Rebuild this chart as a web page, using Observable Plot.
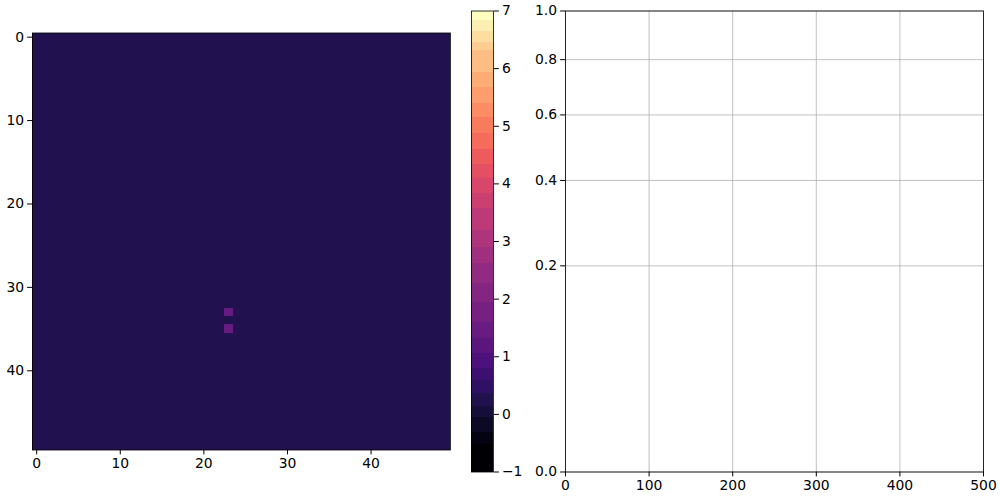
<!DOCTYPE html>
<html><head><meta charset="utf-8">
<script src="https://cdn.jsdelivr.net/npm/d3@7"></script>
<script src="https://cdn.jsdelivr.net/npm/@observablehq/plot@0.6"></script>
<style>
body{margin:0;background:#fff;}
#fig{position:relative;width:1000px;height:500px;background:#fff;}
#fig svg{position:absolute;left:0;top:0;overflow:visible;max-width:none;}
</style></head><body><div id="fig"></div>
<script>
// ---- data ----
const gridRows = 50, gridCols = 50;
const backgroundValue = 0.25;
const hotCellRows = [33, 35];
const hotCellCols = [23, 23];
const hotCellValues = [1.5, 1.5];
const levelBounds = [-1, -0.53, -0.32, -0.05, 0.13, 0.37, 0.59, 0.80, 1.06, 1.32, 1.60, 1.94, 2.27, 2.62, 2.90, 3.19, 3.57, 3.83, 4.09, 4.33, 4.59, 4.87, 5.15, 5.39, 5.67, 5.94, 6.31, 6.46, 6.65, 6.84, 7];
const cbarTicks = [-1, 0, 1, 2, 3, 4, 5, 6, 7];
const heatTicks = [0, 10, 20, 30, 40];
const rightXTicks = [0, 100, 200, 300, 400, 500];
const rightYTicks = [0, 0.2, 0.4, 0.6, 0.8, 1.0];

// ---- build ----
const cells = [];
for (let r = 0; r < gridRows; r++) for (let c = 0; c < gridCols; c++) cells.push({row: r, col: c, value: backgroundValue});
hotCellRows.forEach((r, i) => { cells[r * gridCols + hotCellCols[i]].value = hotCellValues[i]; });
const nBins = levelBounds.length - 1;
const binColors = d3.range(nBins).map(i => d3.interpolateMagma(i / (nBins - 1)));
const colorOpts = {type: "threshold", domain: levelBounds.slice(1, -1), range: binColors};
const bins = d3.range(nBins).map(i => ({lo: levelBounds[i], hi: levelBounds[i + 1], mid: (levelBounds[i] + levelBounds[i + 1]) / 2}));
const minusFmt = d => (d < 0 ? "\u2212" + Math.abs(d) : String(d));
const style = {fontFamily: "'DejaVu Sans', sans-serif", fontSize: "13.9px", background: "transparent", color: "black", overflow: "visible"};
const W = 1000, H = 500;
const fig = document.getElementById("fig");

const heat = Plot.plot({
  width: W, height: H, style,
  marginLeft: 32, marginRight: W - 450, marginTop: 32.5, marginBottom: H - 449.5,
  x: {domain: [-0.5, gridCols - 0.5]},
  y: {domain: [gridRows - 0.5, -0.5]},
  color: colorOpts,
  marks: [
    Plot.rect(cells, {x1: d => d.col - 0.5, x2: d => d.col + 0.5, y1: d => d.row - 0.5, y2: d => d.row + 0.5, fill: "value", shapeRendering: "crispEdges"}),
    Plot.frame({stroke: "black", strokeWidth: 0.8}),
    Plot.axisX({ticks: heatTicks, tickSize: 4.9, tickPadding: 3.5, label: null, tickFormat: minusFmt}),
    Plot.axisY({ticks: heatTicks, tickSize: 4.9, tickPadding: 3.5, label: null, tickFormat: minusFmt})
  ]
});
fig.appendChild(heat);

const cbar = Plot.plot({
  width: W, height: H, style,
  marginLeft: 471, marginRight: W - 493, marginTop: 10.5, marginBottom: H - 471.5,
  x: {domain: [0, 1], axis: null},
  y: {domain: [-1, 7]},
  color: colorOpts,
  marks: [
    Plot.rect(bins, {x1: 0, x2: 1, y1: "lo", y2: "hi", fill: "mid", shapeRendering: "crispEdges"}),
    Plot.frame({stroke: "black", strokeWidth: 0.8}),
    Plot.axisY({anchor: "right", ticks: cbarTicks, tickSize: 4.9, tickPadding: 3.5, label: null, tickFormat: minusFmt})
  ]
});
fig.appendChild(cbar);

const right = Plot.plot({
  width: W, height: H, style,
  marginLeft: 565, marginRight: W - 983, marginTop: 10.5, marginBottom: H - 471.5,
  x: {domain: [0, 500]},
  y: {type: "sqrt", domain: [0, 1]},
  marks: [
    Plot.gridX(rightXTicks, {stroke: "#b0b0b0", strokeOpacity: 1, strokeWidth: 0.8}),
    Plot.gridY(rightYTicks, {stroke: "#b0b0b0", strokeOpacity: 1, strokeWidth: 0.8}),
    Plot.frame({stroke: "black", strokeWidth: 0.8}),
    Plot.axisX({ticks: rightXTicks, tickSize: 4.9, tickPadding: 3.5, label: null}),
    Plot.axisY({ticks: rightYTicks, tickSize: 4.9, tickPadding: 3.5, label: null, tickFormat: d3.format(".1f")})
  ]
});
fig.appendChild(right);
</script></body></html>
